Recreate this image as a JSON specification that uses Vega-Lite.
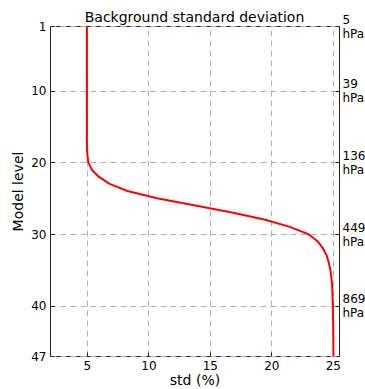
{
  "$schema": "https://vega.github.io/schema/vega-lite/v6.json",
  "width": 289,
  "height": 330,
  "autosize": {"type": "none"},
  "padding": {"left": 50, "top": 26, "right": 26, "bottom": 33},
  "title": {"text": "Background standard deviation", "fontSize": 14, "font": "DejaVu Sans", "fontWeight": "normal", "color": "#000", "offset": 4, "dy": 16},
  "config": {
    "font": "DejaVu Sans",
    "view": {"stroke": "#222", "strokeWidth": 1},
    "axis": {"labelFont": "DejaVu Sans", "labelFontSize": 12, "labelColor": "#000", "titleFont": "DejaVu Sans", "titleFontSize": 14, "titleFontWeight": "normal", "titleColor": "#000", "domain": false, "tickColor": "#222", "gridColor": "#b0b0b0", "gridDash": [6, 4], "gridWidth": 1}
  },
  "layer": [
    {
      "data": {"values": [
        {"level": 1, "std": 5.0}, {"level": 2, "std": 5.0}, {"level": 3, "std": 5.0}, {"level": 4, "std": 5.0},
        {"level": 5, "std": 5.0}, {"level": 6, "std": 5.0}, {"level": 7, "std": 5.0}, {"level": 8, "std": 5.0},
        {"level": 9, "std": 5.0}, {"level": 10, "std": 5.0}, {"level": 11, "std": 5.0}, {"level": 12, "std": 5.0},
        {"level": 13, "std": 5.0}, {"level": 14, "std": 5.0}, {"level": 15, "std": 5.0}, {"level": 16, "std": 5.0},
        {"level": 17, "std": 5.0}, {"level": 18, "std": 5.01}, {"level": 19, "std": 5.04}, {"level": 20, "std": 5.12},
        {"level": 21, "std": 5.38}, {"level": 22, "std": 5.95}, {"level": 23, "std": 6.85}, {"level": 24, "std": 8.3},
        {"level": 25, "std": 10.7}, {"level": 26, "std": 13.7}, {"level": 27, "std": 16.8}, {"level": 28, "std": 19.5},
        {"level": 29, "std": 21.5}, {"level": 30, "std": 23.0}, {"level": 31, "std": 23.75}, {"level": 32, "std": 24.2},
        {"level": 33, "std": 24.5}, {"level": 34, "std": 24.67}, {"level": 35, "std": 24.8}, {"level": 36, "std": 24.88},
        {"level": 37, "std": 24.93}, {"level": 38, "std": 24.96}, {"level": 39, "std": 24.98}, {"level": 40, "std": 25.0},
        {"level": 41, "std": 25.01}, {"level": 42, "std": 25.02}, {"level": 43, "std": 25.03}, {"level": 44, "std": 25.03},
        {"level": 45, "std": 25.04}, {"level": 46, "std": 25.04}, {"level": 47, "std": 25.05}
      ]},
      "mark": {"type": "line", "color": "#ff0000", "strokeWidth": 2},
      "encoding": {
        "x": {"field": "std", "type": "quantitative", "scale": {"domain": [2, 25.5], "nice": false, "zero": false},
              "axis": {"title": "std (%)", "values": [5, 10, 15, 20, 25], "tickSize": -4, "labelPadding": 8, "titlePadding": 2}},
        "y": {"field": "level", "type": "quantitative", "scale": {"domain": [1, 47], "reverse": true, "nice": false, "zero": false},
              "axis": {"title": "Model level", "values": [1, 10, 20, 30, 40, 47], "tickSize": -4, "labelPadding": 8, "titlePadding": 5}},
        "order": {"field": "level", "type": "quantitative"}
      }
    },
    {
      "data": {"values": [
        {"level": 1, "pressure": "5 hPa"}, {"level": 10, "pressure": "39 hPa"}, {"level": 20, "pressure": "136 hPa"},
        {"level": 30, "pressure": "449 hPa"}, {"level": 40, "pressure": "869 hPa"}
      ]},
      "mark": {"type": "point", "opacity": 0},
      "encoding": {
        "y": {"field": "level", "type": "quantitative", "scale": {"domain": [1, 47], "reverse": true, "nice": false, "zero": false},
              "axis": {"orient": "right", "title": null, "grid": false, "values": [1, 10, 20, 30, 40], "tickSize": -4, "labelPadding": 7, "labelLineHeight": 14, "labelOffset": -7,
                       "labelExpr": "datum.value == 1 ? ['5', 'hPa'] : datum.value == 10 ? ['39', 'hPa'] : datum.value == 20 ? ['136', 'hPa'] : datum.value == 30 ? ['449', 'hPa'] : ['869', 'hPa']"}}
      }
    }
  ],
  "resolve": {"axis": {"y": "independent"}}
}
